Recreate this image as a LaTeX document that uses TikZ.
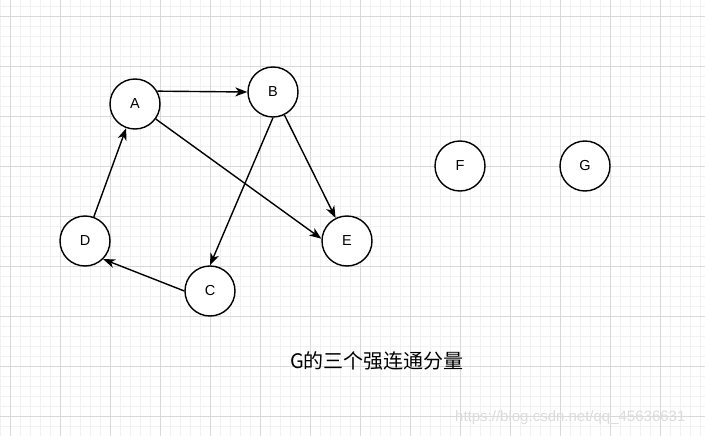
\documentclass[tikz,border=0pt]{standalone}
\usepackage{fontspec}
\setmainfont{Liberation Sans}
\newfontfamily\cjk{Noto Sans CJK SC}
\usetikzlibrary{arrows.meta}
\definecolor{gminor}{HTML}{F1F1F1}
\definecolor{gmajor}{HTML}{D9D9D9}
\definecolor{wm}{HTML}{DCDCDC}
\begin{document}
\begin{tikzpicture}[x=1pt,y=-1pt,
  vert/.style={circle,draw=black,line width=1.4pt,minimum size=50pt,inner sep=0pt,fill=white,font=\fontsize{14.5}{16}\selectfont},
  edge/.style={draw=black,line width=1.4pt,-{Stealth[length=12pt,width=9pt,inset=3.5pt]}}]
\useasboundingbox (0,0) rectangle (705,436);
\fill[white] (0,0) rectangle (705,436);
% minor grid
\foreach \x in {0,10,...,700} \draw[gminor,line width=0.8pt] (\x,0) -- (\x,436);
\foreach \y in {6,16,...,436} \draw[gminor,line width=0.8pt] (0,\y) -- (705,\y);
% major grid
\foreach \x in {10,60,...,700} \draw[gmajor,line width=0.9pt] (\x,0) -- (\x,436);
\foreach \y in {16,66,...,436} \draw[gmajor,line width=0.9pt] (0,\y) -- (705,\y);
% nodes
\node[vert] (A) at (135,104) {A};
\node[vert] (B) at (273,92) {B};
\node[vert] (C) at (210,291) {C};
\node[vert] (D) at (85,241) {D};
\node[vert] (E) at (347,241) {E};
\node[vert] (F) at (460,166) {F};
\node[vert] (G) at (585,166) {G};
% edges
\draw[edge] (A.30) -- (B.west);
\draw[edge] (A) -- (E.175);
\draw[edge] (B) -- (E);
\draw[edge] (B.south) -- (C.north);
\draw[edge] (C.west) -- (D.-45);
\draw[edge] (D) -- (A);
% caption
\node[font=\cjk\fontsize{20}{23}\selectfont,anchor=west,inner sep=0pt] (cap) at (290,361) {G的三个强连通分量};
\node[font=\fontsize{15}{18}\selectfont,text=wm,anchor=west,inner sep=0pt] (wmk) at (455,418) {https://blog.csdn.net/qq\_45636631};
\end{tikzpicture}
\end{document}
